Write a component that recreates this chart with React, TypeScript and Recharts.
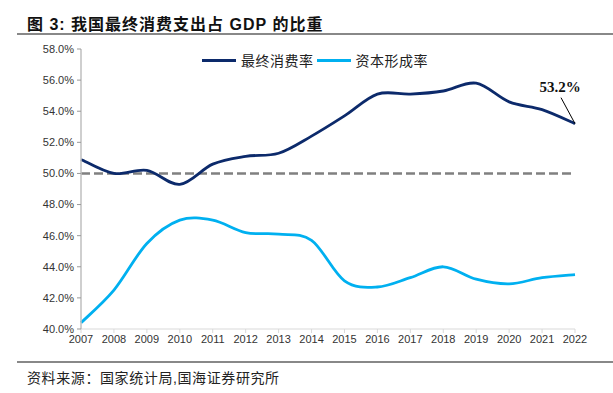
import React from 'react';
import { LineChart, Line, XAxis, YAxis, ReferenceLine } from 'recharts';

const years = ['2007','2008','2009','2010','2011','2012','2013','2014','2015','2016','2017','2018','2019','2020','2021','2022'];
const consumption = [50.9, 50.0, 50.2, 49.3, 50.6, 51.1, 51.3, 52.4, 53.7, 55.1, 55.1, 55.3, 55.8, 54.6, 54.1, 53.2];
const capital = [40.4, 42.5, 45.5, 47.0, 47.0, 46.2, 46.1, 45.7, 43.1, 42.7, 43.3, 44.0, 43.2, 42.9, 43.3, 43.5];
const yTicks = [40, 42, 44, 46, 48, 50, 52, 54, 56, 58];
const benchmark = 50;
const seriesNames = ['最终消费率', '资本形成率'];
const seriesColors = ['#0c2a6b', '#00b0f0'];
const lastLabel = '53.2%';

const data = years.map((y, i) => ({ year: y, c: consumption[i], k: capital[i] }));

const smoothCurve = (ctx: any) => {
  let pts: number[][] = [];
  return {
    areaStart() {},
    areaEnd() {},
    lineStart() { pts = []; },
    point(x: number, y: number) { pts.push([+x, +y]); },
    lineEnd() {
      if (!pts.length) return;
      ctx.moveTo(pts[0][0], pts[0][1]);
      for (let i = 0; i < pts.length - 1; i++) {
        const p0 = pts[i - 1] || pts[i];
        const p1 = pts[i];
        const p2 = pts[i + 1];
        const p3 = pts[i + 2] || p2;
        ctx.bezierCurveTo(
          p1[0] + (p2[0] - p0[0]) / 6, p1[1] + (p2[1] - p0[1]) / 6,
          p2[0] - (p3[0] - p1[0]) / 6, p2[1] - (p3[1] - p1[1]) / 6,
          p2[0], p2[1]
        );
      }
    },
  };
};

const cjk = '"Liberation Sans", "Noto Sans CJK SC", sans-serif';

const EndLabel = (props: any) => {
  const { x, y, index } = props;
  if (index !== years.length - 1) return null;
  return (
    <g>
      <line x1={x - 14} y1={y - 26} x2={x} y2={y} stroke="#000" strokeWidth={1} />
      <text x={x - 15} y={y - 32} textAnchor="middle" fontFamily='"Liberation Serif", serif' fontSize={15} fontWeight="bold" fill="#111">
        {lastLabel}
      </text>
    </g>
  );
};

export default function App() {
  return (
    <div style={{ position: 'absolute', left: 0, top: 0, width: 613, height: 393, background: '#fff', overflow: 'hidden' }}>
      <div style={{ position: 'absolute', left: 27, top: 11, fontFamily: cjk, fontSize: 16, fontWeight: 'bold', color: '#111', whiteSpace: 'nowrap', letterSpacing: 1 }}>
        图 3:&nbsp;我国最终消费支出占 GDP 的比重
      </div>
      <div style={{ position: 'absolute', left: 17, top: 33, width: 596, height: 2, background: '#888' }} />
      <div style={{ position: 'absolute', left: 0, top: 0 }}>
        <LineChart width={613} height={393} data={data} margin={{ top: 49, right: 38, bottom: 34, left: 21 }}>
          <XAxis
            dataKey="year"
            axisLine={{ stroke: '#d9d9d9', strokeWidth: 1 }}
            tickLine={{ stroke: '#d9d9d9' }}
            tickSize={4}
            height={30}
            interval={0}
            tick={{ fontFamily: '"Liberation Sans", Arial, sans-serif', fontSize: 11, fill: '#333' }}
          />
          <YAxis
            domain={[40, 58]}
            ticks={yTicks}
            width={60}
            interval={0}
            axisLine={{ stroke: '#bfbfbf', strokeWidth: 1.5 }}
            tickLine={{ stroke: '#999' }}
            tickSize={4}
            tickMargin={3}
            tickFormatter={(v: number) => v.toFixed(1) + '%'}
            tick={{ fontFamily: '"Liberation Sans", Arial, sans-serif', fontSize: 11, fill: '#333' }}
          />
          <ReferenceLine y={benchmark} stroke="#808080" strokeWidth={2.5} strokeDasharray="9 4" />
          <Line dataKey="c" name={seriesNames[0]} stroke={seriesColors[0]} strokeWidth={2.8} dot={false} type={smoothCurve as any} isAnimationActive={false} label={<EndLabel />} />
          <Line dataKey="k" name={seriesNames[1]} stroke={seriesColors[1]} strokeWidth={2.8} dot={false} type={smoothCurve as any} isAnimationActive={false} />
        </LineChart>
      </div>
      <div style={{ position: 'absolute', left: 202, top: 50, display: 'flex', alignItems: 'center', fontFamily: cjk, fontSize: 14, letterSpacing: 0.5, color: '#222', whiteSpace: 'nowrap' }}>
        {seriesNames.map((n, i) => (
          <div key={n} style={{ display: 'flex', alignItems: 'center', marginRight: 3 }}>
            <div style={{ width: 34, height: 3, background: seriesColors[i], marginRight: 5 }} />
            <span>{n}</span>
          </div>
        ))}
      </div>
      <div style={{ position: 'absolute', left: 17, top: 361, width: 596, height: 2, background: '#888' }} />
      <div style={{ position: 'absolute', left: 27, top: 367, fontFamily: cjk, fontSize: 14, letterSpacing: 0.6, color: '#222', whiteSpace: 'nowrap' }}>
        资料来源：国家统计局,国海证券研究所
      </div>
    </div>
  );
}
